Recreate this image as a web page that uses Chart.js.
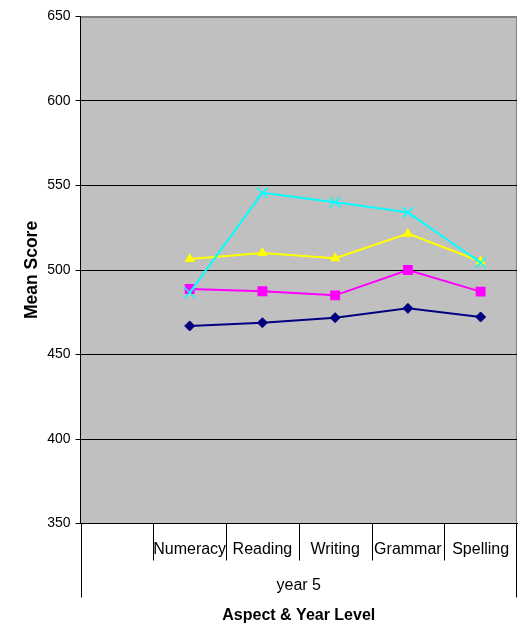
<!DOCTYPE html>
<html>
<head>
<meta charset="utf-8">
<script src="https://cdn.jsdelivr.net/npm/chart.js@4/dist/chart.umd.min.js"></script>
<style>
  html, body { margin: 0; padding: 0; background: #ffffff; overflow: hidden; }
  #wrap { width: 518px; height: 624px; position: relative; overflow: hidden; }
  canvas { display: block; }
</style>
</head>
<body>
<div id="wrap"><canvas id="c"></canvas></div>
<script>
// ---- data ----
const categories = ['', 'Numeracy', 'Reading', 'Writing', 'Grammar', 'Spelling'];
const groupLabels = ['year 5'];
const yTicks = [350, 400, 450, 500, 550, 600, 650];

const series1 = [null, 466.9, 468.8, 471.8, 477.3, 472.2];   // navy diamonds
const series2 = [null, 488.8, 487.4, 485.0, 500.0, 487.2];   // magenta squares
const series3 = [null, 506.5, 510.0, 507.0, 521.5, 505.0];   // yellow triangles
const series4 = [null, 486.6, 545.7, 540.1, 534.1, 504.3];   // cyan crosses

const FONT = '"Liberation Sans", Arial, sans-serif';

const plotBg = {
  id: 'plotBg',
  beforeDraw(chart) {
    const { ctx, chartArea: a } = chart;
    ctx.save();
    ctx.fillStyle = '#C0C0C0';
    ctx.fillRect(a.left, a.top, a.right - a.left, a.bottom - a.top);
    ctx.strokeStyle = '#808080';
    ctx.lineWidth = 1;
    ctx.beginPath();
    ctx.moveTo(a.left, Math.round(a.top) + 0.5);
    ctx.lineTo(Math.round(a.right) - 0.5, Math.round(a.top) + 0.5);
    ctx.lineTo(Math.round(a.right) - 0.5, a.bottom);
    ctx.stroke();
    ctx.restore();
  },
  afterDraw(chart) {
    // category separators below the axis (two-level category axis)
    const { ctx, chartArea: a } = chart;
    const xs = chart.scales.x;
    const n = categories.length;
    ctx.save();
    ctx.strokeStyle = '#000000';
    ctx.lineWidth = 1;
    ctx.beginPath();
    for (let i = 0; i <= n; i++) {
      const px = Math.round(xs.getPixelForValue(i - 0.5)) + (i === n ? -0.5 : 0.5);
      const len = (i === 0 || i === n) ? 74 : 37;
      ctx.moveTo(px, a.bottom);
      ctx.lineTo(px, a.bottom + len);
    }
    ctx.stroke();
    ctx.restore();
  }
};

new Chart(document.getElementById('c'), {
  type: 'line',
  data: {
    labels: categories,
    datasets: [
      { label: 'Series 1', data: series1, order: 4, borderColor: '#000080', backgroundColor: '#000080',
        pointStyle: 'rectRot', pointRadius: 5, pointBorderWidth: 1, pointBorderColor: '#000080' },
      { label: 'Series 2', data: series2, order: 3, borderColor: '#FF00FF', backgroundColor: '#FF00FF',
        pointStyle: 'rect', pointRadius: 7, pointBorderWidth: 0 },
      { label: 'Series 3', data: series3, order: 2, borderColor: '#FFFF00', backgroundColor: '#FFFF00',
        pointStyle: 'triangle', pointRadius: 6, pointBorderWidth: 0 },
      { label: 'Series 4', data: series4, order: 1, borderColor: '#00FFFF', backgroundColor: '#00FFFF',
        pointStyle: 'crossRot', pointRadius: 7.5, pointBorderWidth: 1.5, pointBorderColor: '#00FFFF' }
    ].map(d => Object.assign({ borderWidth: 2, tension: 0, fill: false, spanGaps: false }, d))
  },
  plugins: [plotBg],
  options: {
    responsive: true,
    maintainAspectRatio: false,
    animation: false,
    layout: { autoPadding: false, padding: { top: 16.5, right: 1, bottom: 0, left: 0 } },
    plugins: { legend: { display: false }, tooltip: { enabled: false } },
    scales: {
      y: {
        min: 350, max: 650,
        afterBuildTicks(scale) { scale.ticks = yTicks.map(v => ({ value: v })); },
        ticks: { color: '#000', font: { family: FONT, size: 14 }, padding: 5 },
        grid: {
          color: ctx => (ctx.tick && ctx.tick.value === 650) ? '#808080' : '#000000',
          tickColor: '#000000', tickLength: 5, lineWidth: 1
        },
        border: { display: true, color: '#000000', width: 1 },
        title: { display: true, text: 'Mean Score', color: '#000',
          font: { family: FONT, size: 17.5, weight: 'bold' }, padding: { top: 21.8, bottom: -0.6 } }
      },
      x: {
        type: 'category',
        position: 'bottom',
        weight: 0,
        offset: true,
        ticks: { color: '#000', font: { family: FONT, size: 16, lineHeight: '53px' }, padding: 0,
          autoSkip: false, maxRotation: 0, minRotation: 0 },
        grid: { offset: true, drawOnChartArea: false, drawTicks: false },
        border: { display: true, color: '#000000', width: 1 }
      },
      x2: {
        type: 'category',
        position: 'bottom',
        weight: 1,
        labels: groupLabels,
        offset: true,
        ticks: { color: '#000', font: { family: FONT, size: 16, lineHeight: '19px' }, padding: 0,
          autoSkip: false, maxRotation: 0, minRotation: 0 },
        grid: { offset: true, drawOnChartArea: false, drawTicks: false },
        border: { display: false },
        title: { display: true, text: 'Aspect & Year Level', color: '#000',
          font: { family: FONT, size: 16, weight: 'bold' }, padding: { top: 10.9, bottom: -1.6 } }
      }
    }
  }
});
</script>
</body>
</html>
